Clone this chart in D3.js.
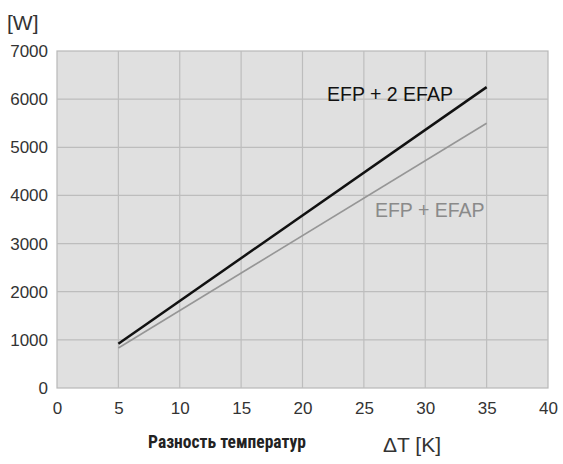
<!DOCTYPE html>
<html><head><meta charset="utf-8">
<script src="https://cdn.jsdelivr.net/npm/d3@7"></script>
<style>body{margin:0;background:#fff}svg{display:block}</style>
</head><body>
<script>
const xTicks = [0,5,10,15,20,25,30,35,40];
const yTicks = [0,1000,2000,3000,4000,5000,6000,7000];
const seriesNames = ["EFP + 2 EFAP", "EFP + EFAP"];
const deltaT = [5, 35];
const powerTwoEfap = [920, 6250];
const powerOneEfap = [830, 5500];

const W = 563, H = 464;
const m = {left:57, right:15, top:51, bottom:76};
const svg = d3.select("body").append("svg").attr("width", W).attr("height", H);
const x = d3.scaleLinear().domain([0,40]).range([m.left, W - m.right]);
const y = d3.scaleLinear().domain([0,7000]).range([H - m.bottom, m.top]);
const FONT = "Liberation Sans, Arial, sans-serif";

// plot background
svg.append("rect").attr("x", x(0)).attr("y", y(7000))
  .attr("width", x(40)-x(0)).attr("height", y(0)-y(7000))
  .attr("fill", "#e0e0e0").attr("stroke", "#b8b8b8").attr("stroke-width", 1.2);

// grid
svg.append("g").selectAll("line").data(xTicks.slice(1,-1)).join("line")
  .attr("x1", d=>x(d)).attr("x2", d=>x(d)).attr("y1", y(7000)).attr("y2", y(0))
  .attr("stroke", "#bdbdbd").attr("stroke-width", 1.2);
svg.append("g").selectAll("line").data(yTicks.slice(1,-1)).join("line")
  .attr("x1", x(0)).attr("x2", x(40)).attr("y1", d=>y(d)).attr("y2", d=>y(d))
  .attr("stroke", "#bdbdbd").attr("stroke-width", 1.2);

// axes labels via d3 axes
const xAxis = svg.append("g").attr("transform", `translate(0,${y(0)})`)
  .call(d3.axisBottom(x).tickValues(xTicks).tickSize(0).tickPadding(14).tickFormat(d3.format("d")));
const yAxis = svg.append("g").attr("transform", `translate(${x(0)},0)`)
  .call(d3.axisLeft(y).tickValues(yTicks).tickSize(0).tickPadding(9).tickFormat(d3.format("d")));
[xAxis, yAxis].forEach(a => {
  a.select(".domain").remove();
  a.selectAll("text").attr("font-family", FONT)
    .attr("font-size", 17).attr("fill", "#333");
});
xAxis.selectAll("text").attr("dy", "0.71em");

// lines
const line = d3.line().x(d=>x(d[0])).y(d=>y(d[1]));
const s2 = deltaT.map((t,i)=>[t, powerTwoEfap[i]]);
const s1 = deltaT.map((t,i)=>[t, powerOneEfap[i]]);
svg.append("path").datum(s1).attr("d", line).attr("fill","none")
  .attr("stroke", "#969696").attr("stroke-width", 1.6);
svg.append("path").datum(s2).attr("d", line).attr("fill","none")
  .attr("stroke", "#111").attr("stroke-width", 2.5);

// series labels
svg.append("text").attr("x", x(22.0)).attr("y", y(5960))
  .attr("font-family", FONT).attr("font-size", 19.5)
  .attr("fill", "#111").text(seriesNames[0]);
svg.append("text").attr("x", x(25.9)).attr("y", y(3560))
  .attr("font-family", FONT).attr("font-size", 19.5)
  .attr("fill", "#8a8a8a").text(seriesNames[1]);

// unit labels
svg.append("text").attr("x", 7).attr("y", 30)
  .attr("font-family", FONT).attr("font-size", 21)
  .attr("fill", "#333").text("[W]");
svg.append("text").attr("x", 227).attr("y", 448).attr("text-anchor","middle")
  .attr("font-family", "Liberation Sans Narrow, Roboto Condensed, Arial Narrow, sans-serif")
  .attr("font-weight", "bold").attr("font-size", 17.5).attr("fill", "#222")
  .text("Разность температур");
svg.append("text").attr("x", 383).attr("y", 452)
  .attr("font-family", FONT).attr("font-size", 21)
  .attr("fill", "#333").text("ΔT [K]");
</script>
</body></html>
